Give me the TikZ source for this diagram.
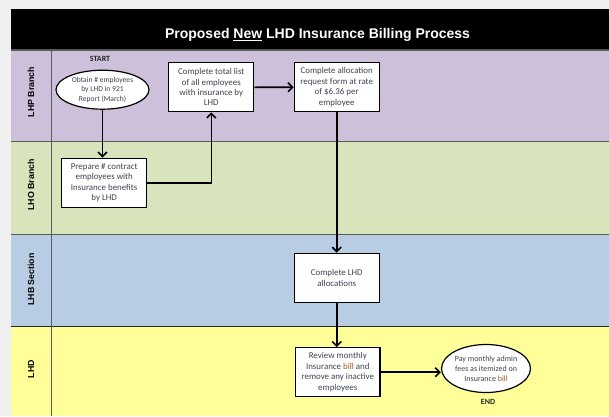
\documentclass[tikz,border=0pt]{standalone}
\usepackage{fontspec}
\setmainfont{Carlito}
\newfontfamily\arialfont{Liberation Sans}
\usetikzlibrary{arrows.meta,shapes.geometric,calc}
\definecolor{bgmargin}{HTML}{F0F0F0}
\definecolor{lanep}{HTML}{CCC0DA}
\definecolor{laneg}{HTML}{D8E4BC}
\definecolor{laneb}{HTML}{B8CCE4}
\definecolor{laney}{HTML}{FFFF99}
\definecolor{lanesepc}{HTML}{5A5A5A}
\definecolor{boxtext}{HTML}{404452}
\definecolor{billc}{HTML}{9A5A2C}
\begin{document}
\begin{tikzpicture}[x=1pt,y=-1pt,
  stepbox/.style={draw=black,line width=1.2pt,fill=white,minimum width=85pt,minimum height=49pt,inner sep=1pt,align=center,font=\fontsize{8.9}{10.4}\selectfont,text=boxtext},
  oval/.style={ellipse,draw=black,line width=1.2pt,fill=white,inner sep=0pt,align=center,text=boxtext},
  flow/.style={line width=1.6pt,-{Straight Barb[length=4.5pt,width=9pt,line width=1.6pt]}},
  lanelabel/.style={rotate=90,font=\arialfont\bfseries\fontsize{8.8}{10}\selectfont},
  lanesep/.style={draw=lanesepc,line width=1.2pt},
  marker/.style={font=\bfseries\fontsize{8}{9}\selectfont,text=black!85}
  ]
\useasboundingbox (0,0) rectangle (609,416);
\fill[bgmargin] (0,0) rectangle (609,416);
% lanes
\fill[black] (11,8.5) rectangle (609,50);
\fill[lanep] (11,50) rectangle (609,141.7);
\fill[laneg] (11,141.7) rectangle (609,234.2);
\fill[laneb] (11,234.2) rectangle (609,326.7);
\fill[laney] (11,326.7) rectangle (609,416);
\draw[lanesep] (11,50) -- (609,50);
\draw[lanesep] (11,141.7) -- (609,141.7);
\draw[lanesep] (11,234.2) -- (609,234.2);
\draw[draw=black!85,line width=1.1pt] (11,326.7) -- (609,326.7);
\draw[lanesep,line width=0.9pt] (51.5,50) -- (51.5,416);
% title
\node[anchor=base,text=white,font=\arialfont\bfseries\fontsize{14}{16}\selectfont] (title) at (317.5,38.5) {Proposed \underline{New} LHD Insurance Billing Process};
% lane labels
\node[lanelabel] (l1) at (31,92) {LHP Branch};
\node[lanelabel] (l2) at (31,185) {LHO Branch};
\node[lanelabel] (l3) at (31,279.5) {LHB Section};
\node[lanelabel] (l4) at (31,369) {LHD};
% nodes
\node[oval,minimum width=93pt,minimum height=39pt,font=\fontsize{7.6}{9.4}\selectfont] (start) at (102.5,89.7) {Obtain \# employees\\by LHD in 921\\Report (March)};
\node[marker] (startlbl) at (100,59) {START};
\node[stepbox] (total) at (211.3,87.3) {Complete total list\\of all employees\\with insurance by\\LHD};
\node[stepbox] (alloc) at (336.7,87.2) {Complete allocation\\request form at rate\\of \$6.36 per\\employee};
\node[stepbox] (prep) at (104.2,182.8) {Prepare \# contract\\employees with\\Insurance benefits\\by LHD};
\node[stepbox] (lhdal) at (336.8,277.8) {Complete LHD\\allocations};
\node[stepbox,minimum width=84.3pt] (review) at (337.8,372.2) {Review monthly\\Insurance {\color{billc}bill} and\\remove any inactive\\employees};
\node[oval,minimum width=89pt,minimum height=48pt,font=\fontsize{8}{10.2}\selectfont] (endn) at (486,368.5) {Pay monthly admin\\fees as itemized on\\Insurance {\color{billc}bill}};
\node[marker] (endlbl) at (488,401.7) {END};
% connectors
\draw[flow] (start.south) -- (start.south |- prep.north);
\draw[flow] (prep.east) -| (total.south);
\draw[flow] (total.east) -- (alloc.west);
\draw[flow] (alloc.south) -- (alloc.south |- lhdal.north);
\draw[flow] (lhdal.south) -- (lhdal.south |- review.north);
\draw[flow] (review.east) -- (review.east -| endn.west);
\end{tikzpicture}
\end{document}
